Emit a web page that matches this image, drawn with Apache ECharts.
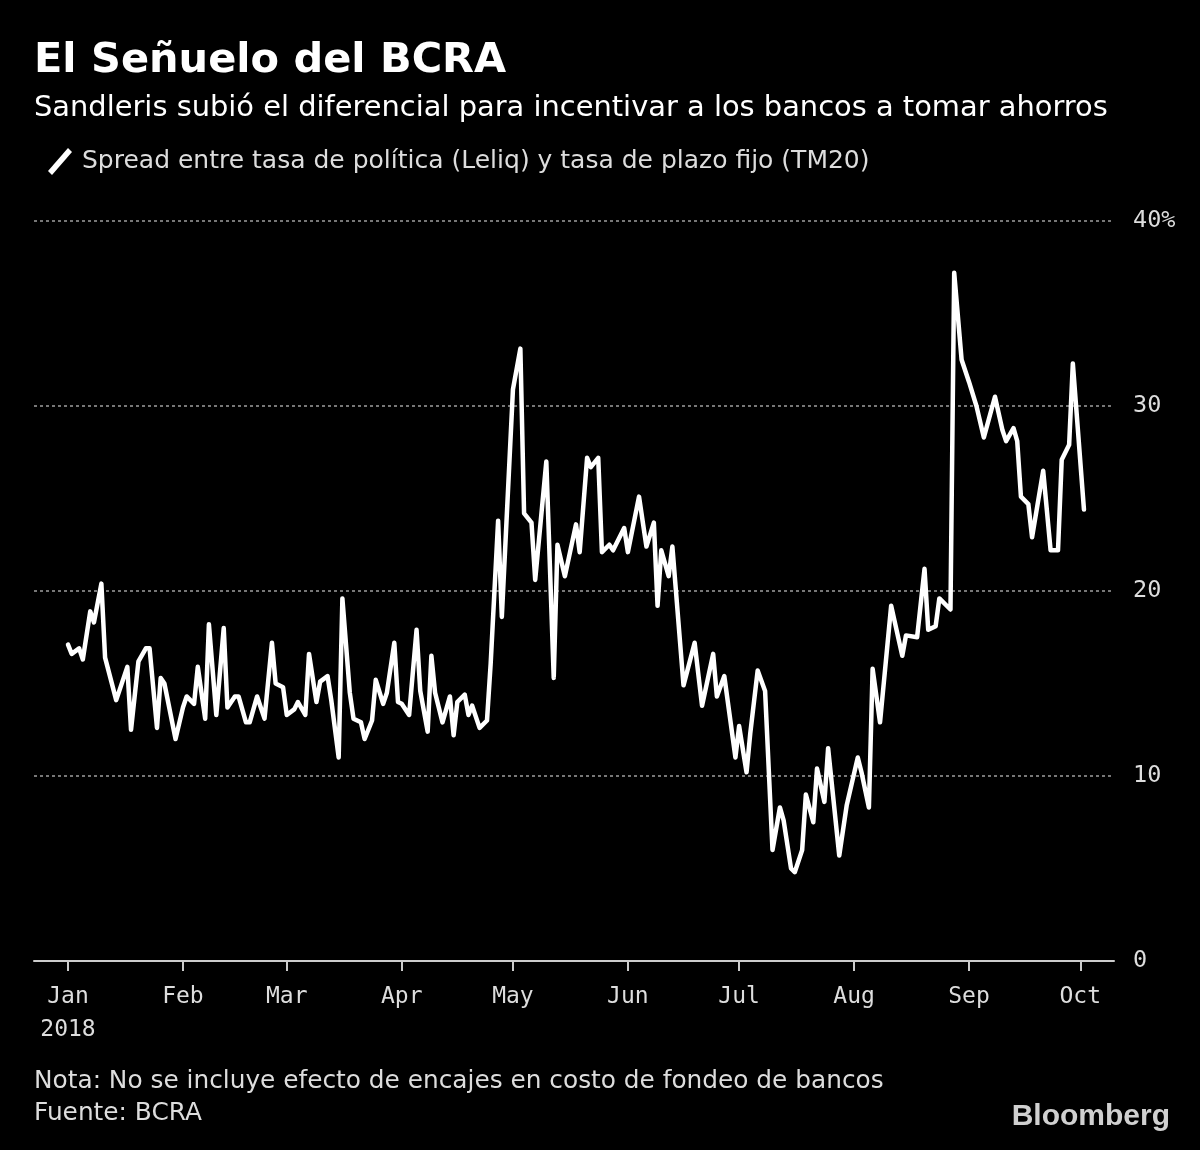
<!DOCTYPE html>
<html>
<head>
<meta charset="utf-8">
<script src="https://cdn.jsdelivr.net/npm/echarts@6/dist/echarts.min.js"></script>
<style>
html,body{margin:0;padding:0;background:#000;}
#chart{width:1200px;height:1150px;}
</style>
</head>
<body>
<div id="chart"></div>
<script>
const titleText = 'El Señuelo del BCRA';
const subtitleText = 'Sandleris subió el diferencial para incentivar a los bancos a tomar ahorros';
const seriesName = 'Spread entre tasa de política (Leliq) y tasa de plazo fijo (TM20)';
const noteText = 'Nota: No se incluye efecto de encajes en costo de fondeo de bancos';
const sourceText = 'Fuente: BCRA';
const monthLabels = ['Jan','Feb','Mar','Apr','May','Jun','Jul','Aug','Sep','Oct','Nov','Dec'];
const yTicks = [0, 10, 20, 30, 40];

const dates = [
'2018-01-01','2018-01-02','2018-01-04','2018-01-05','2018-01-07','2018-01-08','2018-01-10','2018-01-11','2018-01-14','2018-01-17','2018-01-18','2018-01-20','2018-01-22','2018-01-23','2018-01-25','2018-01-26','2018-01-27','2018-01-30',
'2018-02-01','2018-02-02','2018-02-04','2018-02-05','2018-02-07','2018-02-08','2018-02-10','2018-02-12','2018-02-13','2018-02-15','2018-02-16','2018-02-18','2018-02-19','2018-02-21','2018-02-23','2018-02-25','2018-02-26','2018-02-28',
'2018-03-01','2018-03-03','2018-03-04','2018-03-06','2018-03-07','2018-03-09','2018-03-10','2018-03-12','2018-03-13','2018-03-15','2018-03-16','2018-03-18','2018-03-19','2018-03-21','2018-03-22','2018-03-24','2018-03-25','2018-03-27','2018-03-28','2018-03-30','2018-03-31',
'2018-04-01','2018-04-03','2018-04-05','2018-04-06','2018-04-08','2018-04-09','2018-04-10','2018-04-12','2018-04-14','2018-04-15','2018-04-16','2018-04-18','2018-04-19','2018-04-20','2018-04-22','2018-04-24','2018-04-25','2018-04-27','2018-04-28',
'2018-05-01','2018-05-03','2018-05-04','2018-05-06','2018-05-07','2018-05-10','2018-05-12','2018-05-13','2018-05-15','2018-05-18','2018-05-19','2018-05-21','2018-05-22','2018-05-24','2018-05-25','2018-05-27','2018-05-28','2018-05-31',
'2018-06-01','2018-06-04','2018-06-06','2018-06-08','2018-06-09','2018-06-10','2018-06-12','2018-06-13','2018-06-16','2018-06-19','2018-06-21','2018-06-24','2018-06-25','2018-06-27','2018-06-30',
'2018-07-01','2018-07-03','2018-07-04','2018-07-06','2018-07-08','2018-07-10','2018-07-12','2018-07-13','2018-07-15','2018-07-16','2018-07-18','2018-07-19','2018-07-21','2018-07-22','2018-07-24','2018-07-25','2018-07-28','2018-07-30',
'2018-08-02','2018-08-03','2018-08-05','2018-08-06','2018-08-08','2018-08-11','2018-08-14','2018-08-15','2018-08-18','2018-08-20','2018-08-21','2018-08-23','2018-08-24','2018-08-27','2018-08-28','2018-08-30',
'2018-09-01','2018-09-03','2018-09-05','2018-09-08','2018-09-10','2018-09-11','2018-09-13','2018-09-14','2018-09-15','2018-09-17','2018-09-18','2018-09-21','2018-09-23','2018-09-25','2018-09-26','2018-09-28','2018-09-29',
'2018-10-02'
];

const spread = [
17.1,16.6,16.9,16.3,18.9,18.3,20.4,16.4,14.1,15.9,12.5,16.2,16.9,16.9,12.6,15.3,15.0,12.0,
13.7,14.3,13.9,15.9,13.1,18.2,13.3,18.0,13.7,14.3,14.3,12.9,12.9,14.3,13.1,17.2,15.0,14.8,
13.3,13.6,14.0,13.3,16.6,14.0,15.1,15.4,14.1,11.0,19.6,14.5,13.1,12.9,12.0,13.0,15.2,13.9,14.5,17.2,14.0,
13.9,13.3,17.9,14.6,12.4,16.5,14.5,12.9,14.3,12.2,14.0,14.4,13.3,13.8,12.6,13.0,16.1,23.8,18.6,
30.9,33.1,24.2,23.7,20.6,27.0,15.3,22.5,20.8,23.6,22.1,27.2,26.7,27.2,22.1,22.5,22.2,23.4,
22.1,25.1,22.4,23.7,19.2,22.2,20.8,22.4,14.9,17.2,13.8,16.6,14.3,15.4,11.0,
12.7,10.2,12.3,15.7,14.6,6.0,8.3,7.6,5.0,4.8,6.0,9.0,7.5,10.4,8.6,11.5,5.7,8.4,
11.0,10.2,8.3,15.8,12.9,19.2,16.5,17.6,17.5,21.2,17.9,18.1,19.6,19.0,37.2,32.5,
31.3,30.0,28.3,30.5,28.7,28.1,28.8,28.1,25.1,24.7,22.9,26.5,22.2,22.2,27.1,27.9,32.3,
24.4
];

const DAY = 86400000;
const base = new Date(2018, 0, 1).getTime();
const xMin = base - 9.17 * DAY;
const xMax = base + 282.1 * DAY;

const chart = echarts.init(document.getElementById('chart'), null, {renderer: 'canvas'});
const FONT = '"DejaVu Sans", sans-serif';
const MONO = '"DejaVu Sans Mono", monospace';

const option = {
  backgroundColor: '#000',
  animation: false,
  title: [
    {text: titleText, left: 34, top: 36, padding: 0,
     textStyle: {color: '#fff', fontSize: 41.5, fontWeight: 'bold', fontFamily: FONT, lineHeight: 50}},
    {text: subtitleText, left: 34, top: 92, padding: 0,
     textStyle: {color: '#fff', fontSize: 28.9, fontWeight: 'normal', fontFamily: FONT, lineHeight: 32}},
    {text: noteText + '\n' + sourceText, left: 34, top: 1066, padding: 0,
     textStyle: {color: '#ddd', fontSize: 24.8, fontWeight: 'normal', fontFamily: FONT, lineHeight: 32}},
    {text: 'Bloomberg', right: 30, top: 1100, padding: 0,
     textStyle: {color: '#d0d0d0', fontSize: 30, fontWeight: 'bold', fontFamily: 'Liberation Sans', lineHeight: 34}}
  ],
  legend: {
    left: 48, top: 148, padding: 0,
    itemWidth: 24, itemHeight: 27,
    icon: 'path://M0,23 L20,0 L24,4 L4,27 Z',
    itemStyle: {color: '#fff', borderWidth: 0},
    textStyle: {color: '#ddd', fontSize: 25, fontFamily: FONT, padding: [0, 0, 0, 5]},
    data: [{name: seriesName}]
  },
  grid: {left: 34, right: 86, top: 221, bottom: 189},
  xAxis: {
    type: 'time',
    min: xMin, max: xMax,
    minInterval: 28 * DAY, maxInterval: 31 * DAY,
    axisLine: {show: true, lineStyle: {color: '#ccc', width: 2}},
    axisTick: {show: true, length: 10, lineStyle: {color: '#ccc', width: 2}},
    splitLine: {show: false},
    axisLabel: {
      color: '#ddd', fontSize: 23, fontFamily: MONO, margin: 20, lineHeight: 33,
      formatter: function (val) {
        const d = new Date(val);
        const m = monthLabels[d.getMonth()];
        return d.getMonth() === 0 ? m + '\n' + d.getFullYear() : m;
      }
    }
  },
  yAxis: {
    type: 'value', position: 'right',
    min: yTicks[0], max: yTicks[yTicks.length - 1], interval: 10,
    axisLine: {show: false}, axisTick: {show: false},
    axisLabel: {
      color: '#ddd', fontSize: 23.5, fontFamily: MONO, margin: 19, align: 'left',
      formatter: function (v) { return v === yTicks[yTicks.length - 1] ? v + '%' : String(v); }
    },
    splitLine: {show: true, lineStyle: {color: '#777', type: [3, 3], width: 2}}
  },
  series: [{
    name: seriesName,
    type: 'line',
    data: dates.map((d, i) => [d, spread[i]]),
    showSymbol: false,
    color: '#fff',
    lineStyle: {color: '#fff', width: 4.5, join: 'round', cap: 'round'},
    itemStyle: {color: '#fff'}
  }]
};
chart.setOption(option);
</script>
</body>
</html>
